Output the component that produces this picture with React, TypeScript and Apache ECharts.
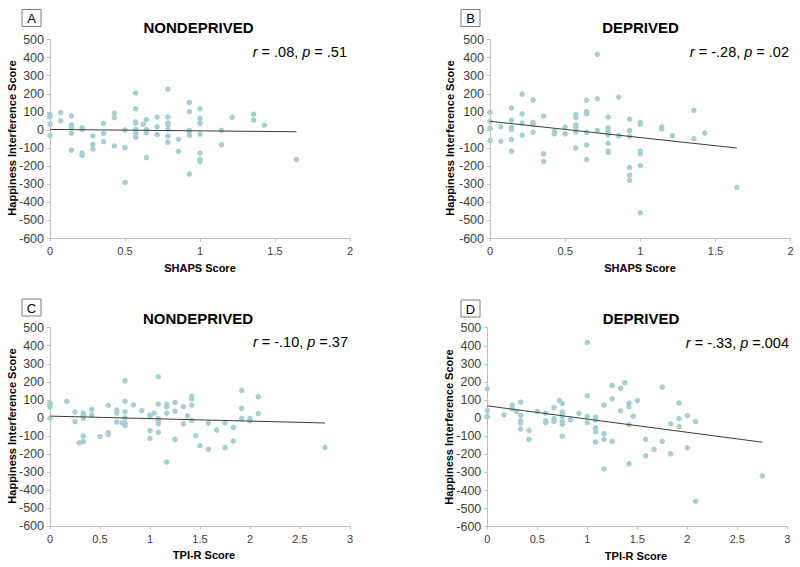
import React, { useEffect, useRef } from "react";
import * as echarts from "echarts";

// ---- Data ----
const shapsNondeprived: number[][] = [
  [0, 85], [0, 72], [0, 32], [0, -32],
  [0.071, 96], [0.071, 51],
  [0.143, 78], [0.143, 28], [0.143, 12], [0.143, -18], [0.143, -112],
  [0.214, 12], [0.214, 2], [0.214, -128], [0.214, -140],
  [0.286, -33], [0.286, -80], [0.286, -105],
  [0.357, 36], [0.357, -19], [0.357, -65],
  [0.429, 93], [0.429, 68], [0.429, -89],
  [0.5, 0], [0.5, -97], [0.5, -290],
  [0.571, 204], [0.571, 117], [0.571, 44], [0.571, 38], [0.571, 3], [0.571, -18], [0.571, -40],
  [0.622, 31],
  [0.643, 57], [0.643, 2], [0.643, -6], [0.643, -15], [0.643, -153],
  [0.714, 71], [0.714, 18], [0.714, -25],
  [0.786, 226], [0.786, 72], [0.786, 38], [0.786, 28], [0.786, 3], [0.786, -34], [0.786, -68],
  [0.857, -52], [0.857, -118],
  [0.929, 152], [0.929, 101], [0.929, -2], [0.929, -9], [0.929, -30], [0.929, -244],
  [1, 117], [1, 64], [1, 36], [1, -23], [1, -128], [1, -163], [1, -175],
  [1.143, -2], [1.143, -82],
  [1.214, 70],
  [1.357, 87], [1.357, 55],
  [1.429, 27],
  [1.643, -163],
];

const shapsDeprived: number[][] = [
  [0, 97], [0, 48], [0, 10], [0, -58],
  [0.071, 18], [0.071, -63],
  [0.143, 122], [0.143, 54], [0.143, 14], [0.143, 3], [0.143, -53], [0.143, -117],
  [0.214, 198], [0.214, 89], [0.214, 38], [0.214, -28],
  [0.286, 166], [0.286, 42], [0.286, 32], [0.286, -13],
  [0.357, 76], [0.357, -132], [0.357, -174],
  [0.429, -8], [0.429, -21],
  [0.5, 16], [0.5, -21],
  [0.571, 85], [0.571, 68], [0.571, 28], [0.571, 12], [0.571, -10], [0.571, -100],
  [0.643, 164], [0.643, 101], [0.643, 90], [0.643, -13], [0.643, -83], [0.643, -164],
  [0.714, 418], [0.714, 172], [0.714, -3],
  [0.786, 72], [0.786, 12], [0.786, 5], [0.786, -10], [0.786, -27], [0.786, -74], [0.786, -117], [0.786, -124],
  [0.857, 182], [0.857, -32],
  [0.929, 60], [0.929, -3], [0.929, -35], [0.929, -208], [0.929, -250], [0.929, -278],
  [1, 42], [1, 31], [1, -117], [1, -132], [1, -197], [1, -458],
  [1.143, 17], [1.143, 5],
  [1.214, -32],
  [1.357, 108], [1.357, -49],
  [1.429, -17],
  [1.643, -318],
];

const tpiNondeprived: number[][] = [
  [0, 82], [0, 70], [0, 60], [0, -2],
  [0.167, 92],
  [0.25, 33], [0.25, -21],
  [0.292, -138],
  [0.333, 27], [0.333, 15], [0.333, -3], [0.333, -100], [0.333, -130],
  [0.417, 48], [0.417, 16],
  [0.5, -103],
  [0.583, 70], [0.583, -81], [0.583, -91],
  [0.667, 44], [0.667, 26], [0.667, -23],
  [0.722, -28],
  [0.75, 206], [0.75, 92], [0.75, 34], [0.75, 0], [0.75, -30], [0.75, -42],
  [0.833, 72],
  [0.917, 41],
  [1, 17], [1, 8], [1, -70], [1, -113],
  [1.042, 27],
  [1.083, 228], [1.083, 76], [1.083, -4], [1.083, -18], [1.083, -32], [1.083, -80],
  [1.167, 75], [1.167, 62], [1.167, 27], [1.167, -244],
  [1.25, 86], [1.25, 37], [1.25, -119],
  [1.333, 63], [1.333, -33],
  [1.375, 12],
  [1.417, 120], [1.417, 105], [1.417, 71], [1.417, -14],
  [1.458, -98],
  [1.5, -153],
  [1.583, -29], [1.583, -174],
  [1.667, -67],
  [1.75, -28], [1.75, -165],
  [1.833, -52], [1.833, -128],
  [1.917, 153], [1.917, 53], [1.917, -2],
  [2, -3], [2, -15],
  [2.083, 118], [2.083, 24],
  [2.75, -164],
];

const tpiDeprived: number[][] = [
  [0, 162], [0, 42], [0, 8],
  [0.167, 18],
  [0.25, 74], [0.25, 52],
  [0.292, 38],
  [0.333, 88], [0.333, 15], [0.333, -15], [0.333, -27], [0.333, -60],
  [0.417, -67], [0.417, -117],
  [0.5, 37],
  [0.583, 28], [0.583, -15], [0.583, -24],
  [0.667, 58], [0.667, -3], [0.667, -18],
  [0.722, 97],
  [0.75, 82], [0.75, 35], [0.75, 28], [0.75, 10], [0.75, -18], [0.75, -34], [0.75, -100],
  [0.833, -8],
  [0.917, 27],
  [1, 418], [1, 124], [1, 10], [1, -25],
  [1.083, 5], [1.083, -10], [1.083, -53], [1.083, -75], [1.083, -132],
  [1.167, 72], [1.167, -86], [1.167, -117], [1.167, -281],
  [1.25, 181], [1.25, 107], [1.25, -128],
  [1.333, 165], [1.333, 40],
  [1.375, 196],
  [1.417, 83], [1.417, 62], [1.417, -35], [1.417, -252],
  [1.458, 11],
  [1.5, 97],
  [1.583, -117], [1.583, -208],
  [1.667, -173],
  [1.75, 172], [1.75, -128],
  [1.833, -32], [1.833, -197],
  [1.917, 84], [1.917, -2], [1.917, -47],
  [2, 14], [2, -164],
  [2.083, -18], [2.083, -459],
  [2.75, -319],
];

// trend line end points
const trendA: number[][] = [[0, 3], [1.643, -10]];
const trendB: number[][] = [[0, 48], [1.643, -100]];
const trendC: number[][] = [[0, 10], [2.75, -28]];
const trendD: number[][] = [[0, 68], [2.75, -133]];

const panelLetters = ["A", "B", "C", "D"];
const panelTitles = ["NONDEPRIVED", "DEPRIVED", "NONDEPRIVED", "DEPRIVED"];
const statTexts = [
  "{i|r} = .08, {i|p} = .51",
  "{i|r} = -.28, {i|p} = .02",
  "{i|r} = -.10, {i|p} =.37",
  "{i|r} = -.33, {i|p} =.004",
];
const xAxisNames = ["SHAPS Score", "SHAPS Score", "TPI-R Score", "TPI-R Score"];
const yAxisName = "Happiness Interference Score";
const xMaxes = [2, 2, 3, 3];
const yMin = -600;
const yMax = 500;

const FONT = '"Liberation Sans", Arial, Helvetica, sans-serif';
const DOT = "#a7cfd2";
const AXIS = "#bfbfbf";
const LABEL = "#404040";

// layout (pixels)
const grids = [
  { left: 50, top: 39.5, width: 300, height: 199 },
  { left: 490, top: 39.5, width: 300.5, height: 199 },
  { left: 50, top: 327.7, width: 300, height: 198.5 },
  { left: 487.3, top: 327.7, width: 300, height: 199 },
];
const titlePos = [[198.5, 27.5], [640.5, 27.5], [198, 318.5], [641, 318]];
const statPos = [[347, 52], [789, 52], [348, 342], [789, 343]];
const boxPos = [[22, 9.5], [461, 9.5], [22, 299], [461, 300]];
const yNamePos = [[12, 138], [450, 138], [12, 426], [449, 427]];
const xNamePos = [[200, 268], [640, 268], [204, 555], [636, 556]];

export default function App() {
  const ref = useRef<HTMLDivElement>(null);
  useEffect(() => {
    if (!ref.current) return;
    const chart = echarts.init(ref.current, undefined, { renderer: "svg" });
    const pointSets = [shapsNondeprived, shapsDeprived, tpiNondeprived, tpiDeprived];
    const trends = [trendA, trendB, trendC, trendD];

    const xAxis = grids.map((_, i) => ({
      type: "value",
      gridIndex: i,
      min: 0,
      max: xMaxes[i],
      interval: 0.5,
      axisLine: { show: true, onZero: false, lineStyle: { color: AXIS, width: 1 } },
      axisTick: { show: true, length: 3, lineStyle: { color: AXIS } },
      axisLabel: { fontSize: 11, color: LABEL, fontFamily: FONT, margin: 7 },
      splitLine: { show: false },
    }));
    const yAxis = grids.map((_, i) => ({
      type: "value",
      gridIndex: i,
      min: yMin,
      max: yMax,
      interval: 100,
      axisLine: { show: true, onZero: false, lineStyle: { color: AXIS, width: 1 } },
      axisTick: { show: true, length: 3, lineStyle: { color: AXIS } },
      axisLabel: { fontSize: 12.5, color: LABEL, fontFamily: FONT, margin: 6 },
      splitLine: { show: false },
    }));

    const series: any[] = [];
    pointSets.forEach((pts, i) => {
      series.push({
        type: "scatter",
        xAxisIndex: i,
        yAxisIndex: i,
        data: pts,
        symbol: "circle",
        symbolSize: 5.5,
        itemStyle: { color: DOT, opacity: 1 },
      });
      series.push({
        type: "line",
        xAxisIndex: i,
        yAxisIndex: i,
        data: trends[i],
        symbol: "none",
        lineStyle: { color: "#3c3c3c", width: 1 },
        z: 3,
      });
    });

    const graphic: any[] = [];
    grids.forEach((_, i) => {
      graphic.push({
        type: "rect",
        shape: { x: boxPos[i][0], y: boxPos[i][1], width: 19, height: 17 },
        style: { fill: "#ffffff", stroke: "#7f7f7f", lineWidth: 1 },
      });
      graphic.push({
        type: "text",
        x: boxPos[i][0] + 9.5,
        y: boxPos[i][1] + 9,
        style: {
          text: panelLetters[i],
          fontSize: 13,
          fontFamily: FONT,
          fill: "#000",
          align: "center",
          verticalAlign: "middle",
        },
      });
      graphic.push({
        type: "text",
        x: titlePos[i][0],
        y: titlePos[i][1],
        style: {
          text: panelTitles[i],
          fontSize: 15,
          fontWeight: "bold",
          fontFamily: FONT,
          fill: "#000",
          align: "center",
          verticalAlign: "middle",
        },
      });
      graphic.push({
        type: "text",
        x: statPos[i][0],
        y: statPos[i][1],
        style: {
          text: statTexts[i],
          fontSize: 14.5,
          fontFamily: FONT,
          fill: "#000",
          align: "right",
          verticalAlign: "middle",
          rich: {
            i: { fontStyle: "italic", fontSize: 14.5, fontFamily: FONT, fill: "#000" },
          },
        },
      });
      graphic.push({
        type: "text",
        x: yNamePos[i][0],
        y: yNamePos[i][1],
        rotation: Math.PI / 2,
        style: {
          text: yAxisName,
          fontSize: 11,
          fontWeight: "bold",
          fontFamily: FONT,
          fill: "#000",
          align: "center",
          verticalAlign: "middle",
        },
      });
      graphic.push({
        type: "text",
        x: xNamePos[i][0],
        y: xNamePos[i][1],
        style: {
          text: xAxisNames[i],
          fontSize: 11,
          fontWeight: "bold",
          fontFamily: FONT,
          fill: "#000",
          align: "center",
          verticalAlign: "middle",
        },
      });
    });

    chart.setOption({
      animation: false,
      backgroundColor: "#ffffff",
      grid: grids.map((g) => ({ ...g, containLabel: false })),
      xAxis,
      yAxis,
      series,
      graphic,
    });
    return () => chart.dispose();
  }, []);

  return (
    <div
      ref={ref}
      style={{ position: "absolute", left: 0, top: 0, width: 800, height: 567 }}
    />
  );
}
